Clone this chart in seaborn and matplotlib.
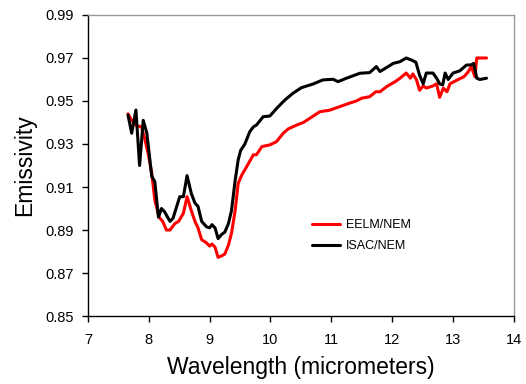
import pandas as pd
import matplotlib
matplotlib.use("Agg")
import matplotlib.pyplot as plt
import seaborn as sns

# EELM/NEM emissivity spectrum
eelm_wl = [7.66, 7.72, 7.80, 7.88, 7.93, 7.99, 8.05, 8.10, 8.17, 8.23, 8.29, 8.35,
           8.43, 8.49, 8.57, 8.63, 8.70, 8.76, 8.81, 8.87, 8.95, 9.00, 9.04, 9.09,
           9.14, 9.20, 9.25, 9.31, 9.36, 9.42, 9.47, 9.53, 9.61, 9.72, 9.77, 9.86,
           9.99, 10.10, 10.21, 10.29, 10.43, 10.54, 10.65, 10.81, 10.97, 11.14, 11.30,
           11.41, 11.50, 11.63, 11.73, 11.80, 11.91, 12.05, 12.13, 12.23, 12.30, 12.34,
           12.40, 12.45, 12.51, 12.56, 12.67, 12.73, 12.78, 12.84, 12.90, 12.95, 13.07,
           13.18, 13.25, 13.30, 13.36, 13.39, 13.55]
eelm_em = [0.944, 0.941, 0.9385, 0.938, 0.933, 0.9257, 0.9164, 0.904, 0.896, 0.894, 0.890, 0.890,
           0.893, 0.894, 0.8978, 0.9055, 0.899, 0.894, 0.891, 0.8855, 0.884, 0.8825, 0.8835, 0.882,
           0.8773, 0.878, 0.8788, 0.883, 0.8885, 0.899, 0.9117, 0.9156, 0.9195, 0.925, 0.925, 0.9288,
           0.9296, 0.9311, 0.935, 0.937, 0.9388, 0.940, 0.942, 0.945, 0.9457, 0.9474, 0.949,
           0.950, 0.9513, 0.952, 0.9543, 0.9543, 0.9567, 0.959, 0.9606, 0.963, 0.9606, 0.9626,
           0.9598, 0.955, 0.957, 0.956, 0.957, 0.958, 0.9517, 0.956, 0.9543, 0.958, 0.9598,
           0.9613, 0.9636, 0.966, 0.9613, 0.970, 0.970]

# ISAC/NEM emissivity spectrum
isac_wl = [7.66, 7.72, 7.79, 7.85, 7.91, 7.97, 8.05, 8.10, 8.16, 8.21, 8.26, 8.35,
           8.40, 8.51, 8.57, 8.63, 8.70, 8.76, 8.81, 8.87, 8.95, 9.00, 9.04, 9.09,
           9.14, 9.20, 9.25, 9.31, 9.36, 9.42, 9.47, 9.51, 9.58, 9.66, 9.72, 9.77,
           9.88, 9.99, 10.10, 10.21, 10.26, 10.37, 10.51, 10.70, 10.86, 11.03, 11.11,
           11.25, 11.47, 11.63, 11.74, 11.80, 12.02, 12.13, 12.23, 12.32, 12.39, 12.45,
           12.51, 12.56, 12.67, 12.73, 12.78, 12.83, 12.87, 12.92, 13.00, 13.11, 13.22,
           13.30, 13.34, 13.39, 13.44, 13.55]
isac_em = [0.9435, 0.935, 0.9458, 0.920, 0.941, 0.935, 0.915, 0.9125, 0.896, 0.900, 0.8985, 0.894,
           0.8955, 0.9055, 0.9055, 0.9153, 0.907, 0.9025, 0.901, 0.894, 0.8915, 0.891, 0.8925, 0.891,
           0.886, 0.888, 0.889, 0.893, 0.899, 0.913, 0.9226, 0.927, 0.930, 0.9357, 0.938, 0.9388,
           0.9427, 0.943, 0.9465, 0.9497, 0.951, 0.9536, 0.9562, 0.9579, 0.9598, 0.9601, 0.959,
           0.9606, 0.9629, 0.9632, 0.966, 0.9637, 0.9675, 0.9683, 0.970, 0.969, 0.968, 0.962,
           0.958, 0.963, 0.963, 0.9606, 0.958, 0.9575, 0.963, 0.960, 0.963, 0.964, 0.9667,
           0.9668, 0.9675, 0.9606, 0.960, 0.9606]

df = pd.concat([
    pd.DataFrame({"wl": eelm_wl, "em": eelm_em, "series": "EELM/NEM"}),
    pd.DataFrame({"wl": isac_wl, "em": isac_em, "series": "ISAC/NEM"}),
])

sns.set_style("white")
plt.rcParams["font.family"] = ["Liberation Sans", "DejaVu Sans"]
plt.rcParams["text.color"] = "black"
plt.rcParams["axes.labelcolor"] = "black"
plt.rcParams["xtick.color"] = "black"
plt.rcParams["ytick.color"] = "black"

fig = plt.figure(figsize=(5.26, 3.84), dpi=100)
ax = fig.add_axes([0.167, 0.177, 0.810, 0.784])

sns.lineplot(data=df, x="wl", y="em", hue="series", palette=["#ff0000", "#000000"],
             sort=False, estimator=None, linewidth=2.2, ax=ax)

ax.set_xlim(7, 14)
ax.set_ylim(0.85, 0.99)
ax.set_xticks(range(7, 15))
ax.set_yticks([0.85, 0.87, 0.89, 0.91, 0.93, 0.95, 0.97, 0.99])
ax.set_yticklabels(["0.85", "0.87", "0.89", "0.91", "0.93", "0.95", "0.97", "0.99"])
ax.tick_params(direction="out", length=4, width=1, labelsize=10.5,
               bottom=True, left=True)
ax.tick_params(axis="x", pad=8)
ax.tick_params(axis="y", pad=6)
ax.set_xlabel("Wavelength (micrometers)", fontsize=16.5, labelpad=7)
ax.set_ylabel("Emissivity", fontsize=16.5, labelpad=7)

for side in ["left", "bottom"]:
    ax.spines[side].set_color("black")
    ax.spines[side].set_linewidth(1)
for side in ["top", "right"]:
    ax.spines[side].set_color("#999999")
    ax.spines[side].set_linewidth(1)

ax.legend(loc="upper left", bbox_to_anchor=(0.5, 0.36), frameon=False, fontsize=9,
          handlelength=2.2, handletextpad=0.5, labelspacing=0.75, title=None)

fig.savefig("out.png", dpi=100)
